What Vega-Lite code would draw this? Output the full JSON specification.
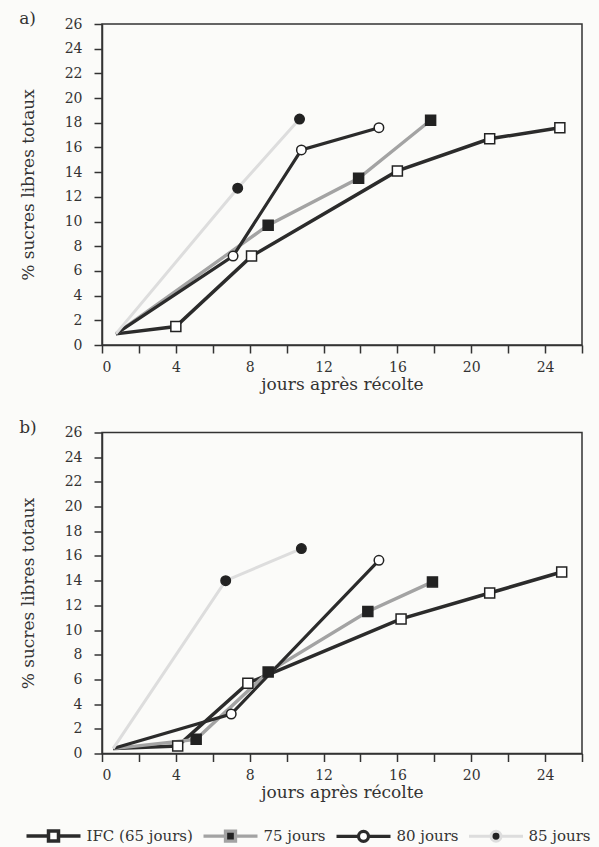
{
  "$schema": "https://vega.github.io/schema/vega-lite/v6.json",
  "background": "#fbfbf9",
  "padding": {"left": 18, "top": 9, "right": 10, "bottom": 0},
  "spacing": 24.5,
  "data": {"values": [
    {"panel": "a", "serie": "IFC (65 jours)", "jours": 0.75, "sucres": 0.9},
    {"panel": "a", "serie": "IFC (65 jours)", "jours": 4.0, "sucres": 1.5},
    {"panel": "a", "serie": "IFC (65 jours)", "jours": 8.1, "sucres": 7.2},
    {"panel": "a", "serie": "IFC (65 jours)", "jours": 16.0, "sucres": 14.1},
    {"panel": "a", "serie": "IFC (65 jours)", "jours": 21.0, "sucres": 16.7},
    {"panel": "a", "serie": "IFC (65 jours)", "jours": 24.8, "sucres": 17.6},
    {"panel": "a", "serie": "75 jours", "jours": 0.75, "sucres": 0.9},
    {"panel": "a", "serie": "75 jours", "jours": 9.0, "sucres": 9.7},
    {"panel": "a", "serie": "75 jours", "jours": 13.9, "sucres": 13.5},
    {"panel": "a", "serie": "75 jours", "jours": 17.8, "sucres": 18.2},
    {"panel": "a", "serie": "80 jours", "jours": 0.75, "sucres": 0.9},
    {"panel": "a", "serie": "80 jours", "jours": 7.1, "sucres": 7.2},
    {"panel": "a", "serie": "80 jours", "jours": 10.8, "sucres": 15.8},
    {"panel": "a", "serie": "80 jours", "jours": 15.0, "sucres": 17.6},
    {"panel": "a", "serie": "85 jours", "jours": 0.75, "sucres": 0.9},
    {"panel": "a", "serie": "85 jours", "jours": 7.35, "sucres": 12.7},
    {"panel": "a", "serie": "85 jours", "jours": 10.7, "sucres": 18.3},
    {"panel": "b", "serie": "IFC (65 jours)", "jours": 0.6, "sucres": 0.4},
    {"panel": "b", "serie": "IFC (65 jours)", "jours": 4.1, "sucres": 0.6},
    {"panel": "b", "serie": "IFC (65 jours)", "jours": 7.9, "sucres": 5.7},
    {"panel": "b", "serie": "IFC (65 jours)", "jours": 16.2, "sucres": 10.9},
    {"panel": "b", "serie": "IFC (65 jours)", "jours": 21.0, "sucres": 13.0},
    {"panel": "b", "serie": "IFC (65 jours)", "jours": 24.9, "sucres": 14.7},
    {"panel": "b", "serie": "75 jours", "jours": 0.6, "sucres": 0.4},
    {"panel": "b", "serie": "75 jours", "jours": 5.1, "sucres": 1.15},
    {"panel": "b", "serie": "75 jours", "jours": 9.0, "sucres": 6.6},
    {"panel": "b", "serie": "75 jours", "jours": 14.4, "sucres": 11.5},
    {"panel": "b", "serie": "75 jours", "jours": 17.9, "sucres": 13.9},
    {"panel": "b", "serie": "80 jours", "jours": 0.6, "sucres": 0.4},
    {"panel": "b", "serie": "80 jours", "jours": 7.0, "sucres": 3.2},
    {"panel": "b", "serie": "80 jours", "jours": 15.0, "sucres": 15.65},
    {"panel": "b", "serie": "85 jours", "jours": 0.6, "sucres": 0.4},
    {"panel": "b", "serie": "85 jours", "jours": 6.7, "sucres": 14.0},
    {"panel": "b", "serie": "85 jours", "jours": 10.8, "sucres": 16.6}
  ]},
  "config": {
    "view": {"stroke": "#333", "strokeWidth": 1.5},
    "axis": {
      "grid": false,
      "domainColor": "#333",
      "domainWidth": 1.5,
      "tickColor": "#333",
      "tickWidth": 1.5,
      "tickSize": 8,
      "labelOverlap": false,
      "labelFont": "DejaVu Serif, Liberation Serif, serif",
      "labelFontSize": 14,
      "labelColor": "#333",
      "titleFont": "DejaVu Serif, Liberation Serif, serif",
      "titleFontSize": 17,
      "titleFontWeight": "normal",
      "titleColor": "#333"
    },
    "title": {"font": "DejaVu Serif, Liberation Serif, serif", "fontSize": 17, "fontWeight": "normal", "color": "#333"},
    "legend": {
      "orient": "none",
      "legendX": -77.5,
      "legendY": 783,
      "direction": "horizontal",
      "labelFont": "DejaVu Serif, Liberation Serif, serif",
      "labelFontSize": 15,
      "labelColor": "#333",
      "symbolSize": 2916,
      "columnPadding": 3,
      "labelOffset": 4
    }
  },
  "vconcat": [
    {
      "width": 480,
      "height": 321,
      "title": {"text": "a)", "anchor": "start", "frame": "bounds", "offset": -11},
      "transform": [{"filter": "datum.panel === 'a'"}],
      "encoding": {
        "x": {"field": "jours", "type": "quantitative", "scale": {"domain": [0, 26], "nice": false},
          "axis": {"title": "jours après récolte", "values": [0,2,4,6,8,10,12,14,16,18,20,22,24,26], "labelExpr": "datum.value % 4 === 0 && datum.value <= 24 ? datum.label : ''", "labelOverlap": false, "labelPadding": 7, "titlePadding": 2}},
        "y": {"field": "sucres", "type": "quantitative", "scale": {"domain": [0, 26], "nice": false},
          "axis": {"title": "% sucres libres totaux", "values": [0,2,4,6,8,10,12,14,16,18,20,22,24,26], "labelOverlap": false, "labelPadding": 12, "titlePadding": 27}}
      },
      "layer": [
        {
          "mark": {"type": "line"},
          "encoding": {
            "order": {"field": "jours"},
            "color": {"field": "serie", "type": "nominal",
              "scale": {"domain": ["IFC (65 jours)", "75 jours", "80 jours", "85 jours"], "range": ["#2b2b2b", "#a3a3a3", "#2b2b2b", "#dddddd"]},
              "legend": {"title": null,
                "encode": {"symbols": {"update": {
                  "shape": {"signal": "datum.value === 'IFC (65 jours)' || datum.value === '75 jours' ? 'M-1,0H-0.185M0.185,0H1M-0.185,-0.185H0.185V0.185H-0.185Z' : 'M-1,0H-0.185M0.185,0H1M-0.185,0A0.185,0.185,0,1,0,0.185,0A0.185,0.185,0,1,0,-0.185,0Z'"},
                  "fill": {"signal": "datum.value === 'IFC (65 jours)' || datum.value === '80 jours' ? 'white' : '#2b2b2b'"},
                  "stroke": {"signal": "datum.value === '75 jours' ? '#a3a3a3' : datum.value === '85 jours' ? '#e2e2e2' : '#2b2b2b'"},
                  "strokeWidth": {"signal": "datum.value === '85 jours' ? 1.5 : 2.5"}
                }}}
              }},
            "strokeWidth": {"field": "serie", "type": "nominal", "scale": {"domain": ["IFC (65 jours)", "75 jours", "80 jours", "85 jours"], "range": [3.5, 3, 3.5, 1.3]}, "legend": null}
          }
        },
        {
          "transform": [{"filter": "datum.jours > 1 && (datum.serie === 'IFC (65 jours)' || datum.serie === '75 jours')"}],
          "mark": {"type": "point", "shape": "square", "stroke": "#222", "strokeWidth": 1.5, "opacity": 1, "size": 100},
          "encoding": {
            "fill": {"field": "serie", "type": "nominal", "scale": {"domain": ["IFC (65 jours)", "75 jours", "80 jours", "85 jours"], "range": ["white", "#222", "white", "#222"]}, "legend": null}
          }
        },
        {
          "transform": [{"filter": "datum.jours > 1 && (datum.serie === '80 jours' || datum.serie === '85 jours')"}],
          "mark": {"type": "point", "shape": "circle", "stroke": "#222", "strokeWidth": 1.5, "opacity": 1, "size": 90},
          "encoding": {
            "fill": {"field": "serie", "type": "nominal", "scale": {"domain": ["IFC (65 jours)", "75 jours", "80 jours", "85 jours"], "range": ["white", "#222", "white", "#222"]}, "legend": null}
          }
        }
      ]
    },
    {
      "width": 480,
      "height": 321,
      "title": {"text": "b)", "anchor": "start", "frame": "bounds", "offset": -11},
      "transform": [{"filter": "datum.panel === 'b'"}],
      "encoding": {
        "x": {"field": "jours", "type": "quantitative", "scale": {"domain": [0, 26], "nice": false},
          "axis": {"title": "jours après récolte", "values": [0,2,4,6,8,10,12,14,16,18,20,22,24,26], "labelExpr": "datum.value % 4 === 0 && datum.value <= 24 ? datum.label : ''", "labelOverlap": false, "labelPadding": 7, "titlePadding": 2}},
        "y": {"field": "sucres", "type": "quantitative", "scale": {"domain": [0, 26], "nice": false},
          "axis": {"title": "% sucres libres totaux", "values": [0,2,4,6,8,10,12,14,16,18,20,22,24,26], "labelOverlap": false, "labelPadding": 12, "titlePadding": 27}}
      },
      "layer": [
        {
          "mark": {"type": "line"},
          "encoding": {
            "order": {"field": "jours"},
            "color": {"field": "serie", "type": "nominal",
              "scale": {"domain": ["IFC (65 jours)", "75 jours", "80 jours", "85 jours"], "range": ["#2b2b2b", "#a3a3a3", "#2b2b2b", "#dddddd"]},
              "legend": {"title": null,
                "encode": {"symbols": {"update": {
                  "shape": {"signal": "datum.value === 'IFC (65 jours)' || datum.value === '75 jours' ? 'M-1,0H-0.185M0.185,0H1M-0.185,-0.185H0.185V0.185H-0.185Z' : 'M-1,0H-0.185M0.185,0H1M-0.185,0A0.185,0.185,0,1,0,0.185,0A0.185,0.185,0,1,0,-0.185,0Z'"},
                  "fill": {"signal": "datum.value === 'IFC (65 jours)' || datum.value === '80 jours' ? 'white' : '#2b2b2b'"},
                  "stroke": {"signal": "datum.value === '75 jours' ? '#a3a3a3' : datum.value === '85 jours' ? '#e2e2e2' : '#2b2b2b'"},
                  "strokeWidth": {"signal": "datum.value === '85 jours' ? 1.5 : 2.5"}
                }}}
              }},
            "strokeWidth": {"field": "serie", "type": "nominal", "scale": {"domain": ["IFC (65 jours)", "75 jours", "80 jours", "85 jours"], "range": [3.5, 3, 3.5, 1.3]}, "legend": null}
          }
        },
        {
          "transform": [{"filter": "datum.jours > 1 && (datum.serie === 'IFC (65 jours)' || datum.serie === '75 jours')"}],
          "mark": {"type": "point", "shape": "square", "stroke": "#222", "strokeWidth": 1.5, "opacity": 1, "size": 100},
          "encoding": {
            "fill": {"field": "serie", "type": "nominal", "scale": {"domain": ["IFC (65 jours)", "75 jours", "80 jours", "85 jours"], "range": ["white", "#222", "white", "#222"]}, "legend": null}
          }
        },
        {
          "transform": [{"filter": "datum.jours > 1 && (datum.serie === '80 jours' || datum.serie === '85 jours')"}],
          "mark": {"type": "point", "shape": "circle", "stroke": "#222", "strokeWidth": 1.5, "opacity": 1, "size": 90},
          "encoding": {
            "fill": {"field": "serie", "type": "nominal", "scale": {"domain": ["IFC (65 jours)", "75 jours", "80 jours", "85 jours"], "range": ["white", "#222", "white", "#222"]}, "legend": null}
          }
        }
      ]
    }
  ]
}
